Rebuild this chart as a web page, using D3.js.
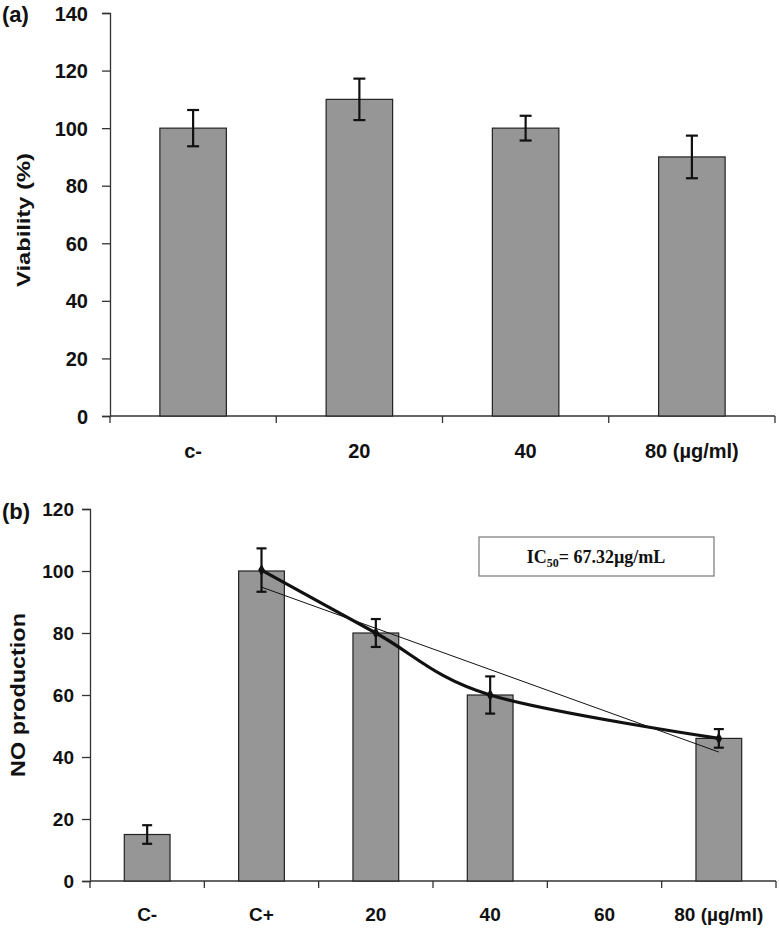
<!DOCTYPE html>
<html lang="en">
<head>
<meta charset="UTF-8">
<title>Viability and NO production</title>
<script src="https://d3js.org/d3.v7.min.js"></script>
<style>
  body { margin: 0; background: #fff; }
  svg text { font-family: "Liberation Sans", Arial, sans-serif; font-weight: bold; fill: #111; }
  .axis path, .axis line { stroke: #333; stroke-width: 1.3; }
</style>
</head>
<body>
<svg id="chart" width="779" height="930"></svg>
<script>
// panel (a) - viability
const topCats = ["c-", "20", "40", "80 (µg/ml)"];
const topValues = [100, 110, 100, 90];
const topErrors = [6.3, 7.2, 4.3, 7.4];
const topTicks = [0, 20, 40, 60, 80, 100, 120, 140];

// panel (b) - NO production
const botCats = ["C-", "C+", "20", "40", "60", "80 (µg/ml)"];
const botValues = [15, 100, 80, 60, null, 46];
const botErrors = [3, 7, 4.5, 6, null, 3];
const botTicks = [0, 20, 40, 60, 80, 100, 120];

// line series drawn over the bars (smoothed) and its linear trend
const lineCats = ["C+", "20", "40", "80 (µg/ml)"];
const lineValues = [100.3, 80, 60, 46];
const lineErrors = [7, 4.5, 6, 3];
const trendCats = ["C+", "80 (µg/ml)"];
const trendValues = [94.8, 41.6];

const svg = d3.select("#chart");

function panel(opts) {
    const g = svg.append("g");
    const x = d3.scaleBand().domain(opts.cats).range(opts.xr)
        .paddingInner(0.6).paddingOuter(0.3);
    const y = d3.scaleLinear().domain(opts.ydom).range(opts.yr);

    // y axis
    const ya = g.append("g").attr("class", "axis")
        .attr("transform", `translate(${opts.xr[0]},0)`)
        .call(d3.axisLeft(y).tickValues(opts.ticks).tickSize(8).tickPadding(opts.tickPad).tickFormat(d3.format("d")));
    ya.selectAll("text").style("font-size", opts.yFont + "px").attr("dy", "0.35em");

    // x axis: line + ticks at band edges
    const step = x.step();
    g.append("line").attr("class", "axisline")
        .attr("x1", opts.xr[0]).attr("x2", opts.xr[1])
        .attr("y1", y(0)).attr("y2", y(0))
        .attr("stroke", "#333").attr("stroke-width", 1.3);
    const edges = d3.range(opts.cats.length + 1).map(i => opts.xr[0] + i * step);
    g.selectAll(".xtick").data(edges).enter().append("line")
        .attr("x1", d => d).attr("x2", d => d)
        .attr("y1", y(0)).attr("y2", y(0) + 7)
        .attr("stroke", "#333").attr("stroke-width", 1.3);
    g.selectAll(".xlab").data(opts.cats).enter().append("text")
        .attr("x", d => x(d) + x.bandwidth() / 2)
        .attr("y", y(0) + opts.xLabDy)
        .attr("text-anchor", "middle")
        .style("font-size", opts.xFont + "px")
        .text(d => d);

    // bars
    const bars = opts.cats.map((c, i) => ({ c, v: opts.values[i], e: opts.errors[i] }))
        .filter(d => d.v != null);
    g.selectAll(".bar").data(bars).enter().append("rect")
        .attr("x", d => x(d.c))
        .attr("y", d => y(d.v))
        .attr("width", x.bandwidth())
        .attr("height", d => y(0) - y(d.v))
        .attr("fill", "#969696")
        .attr("stroke", "#222")
        .attr("stroke-width", 1.2);

    if (opts.barErrors) drawErrors(g, x, y, bars, opts.cap);

    // axis title
    g.append("text")
        .attr("transform", `translate(${opts.titleX},${opts.titleY}) rotate(-90)`)
        .attr("text-anchor", "middle")
        .style("font-size", opts.titleFont + "px")
        .attr("textLength", opts.titleLen)
        .attr("lengthAdjust", "spacingAndGlyphs")
        .text(opts.title);

    g.append("text").attr("x", 2).attr("y", opts.tagY)
        .style("font-size", "22px").text(opts.tag);

    return { g, x, y };
}

function drawErrors(g, x, y, pts, cap) {
    const cx = d => x(d.c) + x.bandwidth() / 2;
    const eg = g.append("g").attr("stroke", "#111").attr("stroke-width", 2.2);
    pts.forEach(d => {
        eg.append("line").attr("x1", cx(d)).attr("x2", cx(d))
            .attr("y1", y(d.v + d.e)).attr("y2", y(d.v - d.e));
        [d.v + d.e, d.v - d.e].forEach(v => {
            eg.append("line").attr("x1", cx(d) - cap).attr("x2", cx(d) + cap)
                .attr("y1", y(v)).attr("y2", y(v));
        });
    });
}

// (a)
panel({
    cats: topCats, values: topValues, errors: topErrors, ticks: topTicks,
    xr: [110, 775], yr: [416, 13], ydom: [0, 140],
    yFont: 20, xFont: 20, tickPad: 14, xLabDy: 42, cap: 6,
    barErrors: true,
    title: "Viability (%)", titleX: 30, titleY: 220, titleFont: 19, titleLen: 134,
    tag: "(a)", tagY: 22
});

// (b)
const b = panel({
    cats: botCats, values: botValues, errors: botErrors, ticks: botTicks,
    xr: [90, 776], yr: [881, 509], ydom: [0, 120],
    yFont: 19, xFont: 19, tickPad: 8, xLabDy: 40, cap: 5,
    barErrors: false,
    title: "NO production", titleX: 25, titleY: 695, titleFont: 20, titleLen: 164,
    tag: "(b)", tagY: 519
});

// error bars of C- (bar series) and of the line series
drawErrors(b.g, b.x, b.y, [{ c: botCats[0], v: botValues[0], e: botErrors[0] }], 5);

const cxB = c => b.x(c) + b.x.bandwidth() / 2;

// linear trendline (thin)
b.g.append("path")
    .datum(trendCats.map((c, i) => [cxB(c), b.y(trendValues[i])]))
    .attr("d", d3.line())
    .attr("fill", "none").attr("stroke", "#111").attr("stroke-width", 1);

// smoothed data line (thick)
const linePts = lineCats.map((c, i) => [cxB(c), b.y(lineValues[i])]);
b.g.append("path")
    .datum(linePts)
    .attr("d", d3.line().curve(d3.curveCatmullRom.alpha(0)))
    .attr("fill", "none").attr("stroke", "#111").attr("stroke-width", 3.2);

drawErrors(b.g, b.x, b.y, lineCats.map((c, i) => ({ c, v: lineValues[i], e: lineErrors[i] })), 5);

b.g.selectAll(".mk").data(linePts).enter().append("path")
    .attr("transform", d => `translate(${d[0]},${d[1]})`)
    .attr("d", d3.symbol(d3.symbolDiamond, 40))
    .attr("fill", "#111");

// IC50 label box
const box = b.g.append("g");
box.append("rect").attr("x", 479).attr("y", 537).attr("width", 235).attr("height", 39)
    .attr("fill", "#fff").attr("stroke", "#777").attr("stroke-width", 1.2);
const ic = box.append("text").attr("x", 596).attr("y", 563).attr("text-anchor", "middle")
    .style("font-family", "'Liberation Serif', 'Times New Roman', serif")
    .style("font-size", "18px");
ic.append("tspan").text("IC");
ic.append("tspan").attr("dy", 4).style("font-size", "12px").text("50");
ic.append("tspan").attr("dy", -4).text("= 67.32µg/mL");
</script>
</body>
</html>
